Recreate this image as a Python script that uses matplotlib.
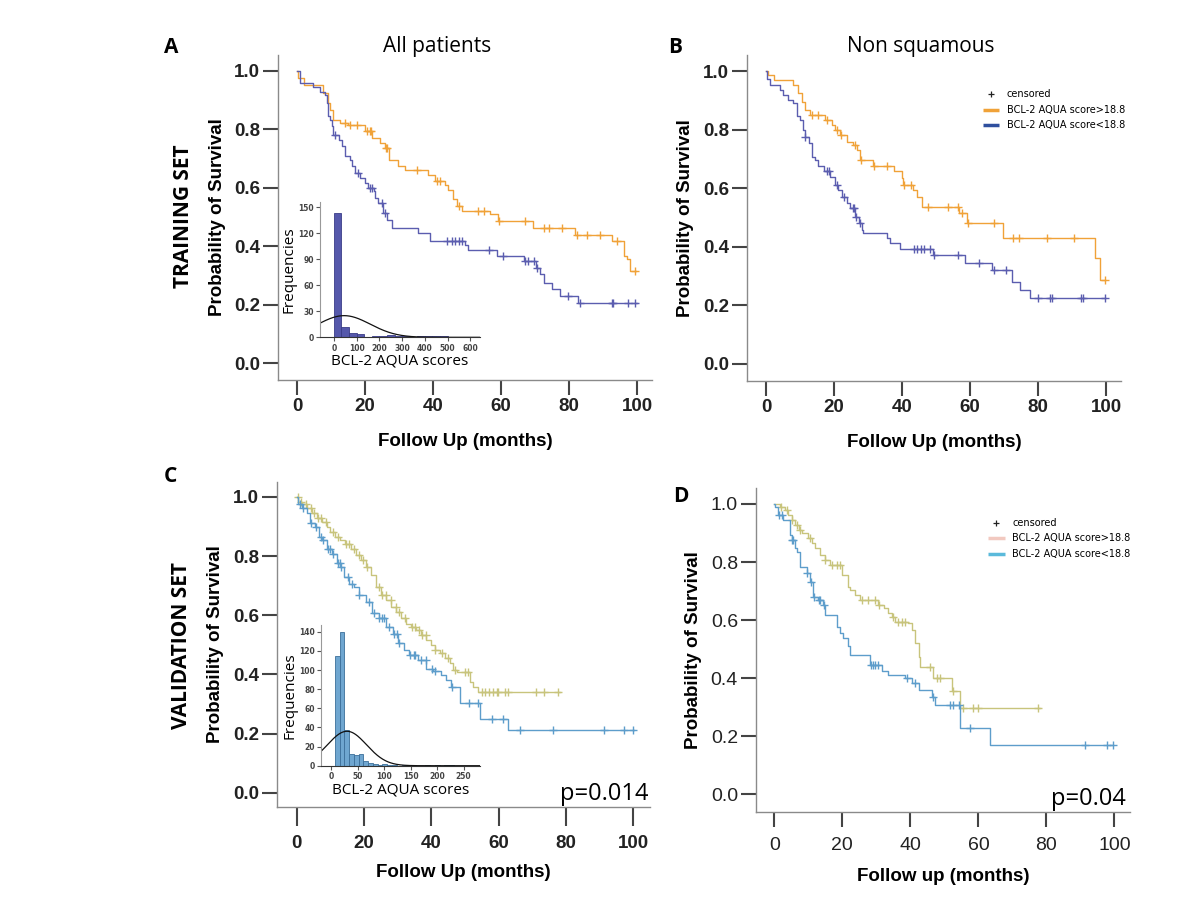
import numpy as np
import matplotlib
matplotlib.use('Agg')
import matplotlib.pyplot as plt

''' Data (read off the figure) '''
# Panel A - all patients, training set
a_hi_t = [0.4, 1.9, 7.7, 9.2, 9.7, 10.7, 12.6, 15.1, 20.0, 22.0, 24.4, 25.9, 26.9, 29.8, 31.8,
          38.6, 40.6, 43.5, 44.5, 46.0, 47.0, 48.4, 56.8, 59.2, 69.5, 81.8, 92.6, 96.0, 97.0, 97.9]
a_hi_s = [0.974, 0.952, 0.924, 0.890, 0.867, 0.833, 0.821, 0.816, 0.793, 0.770, 0.753, 0.736, 0.696,
          0.673, 0.662, 0.645, 0.622, 0.611, 0.594, 0.560, 0.537, 0.520, 0.509, 0.486, 0.463, 0.440,
          0.418, 0.366, 0.355, 0.315]
a_hi_c = [14.0, 15.6, 17.5, 20.5, 21.5, 21.8, 26.2, 26.5, 35.2, 41.1, 42.1, 47.5, 53.3, 55.0, 59.5,
          67.1, 72.5, 74.2, 77.8, 82.2, 85.2, 89.1, 94.2, 99.4]
a_hi_end = 99.6

a_lo_t = [0.9, 4.8, 6.8, 8.2, 8.7, 9.2, 9.7, 10.2, 10.7, 12.2, 13.1, 14.1, 15.6, 16.1, 17.1, 18.5,
          20.0, 21.0, 22.5, 22.9, 23.9, 25.4, 26.4, 27.8, 35.7, 39.1, 49.4, 50.4, 58.7, 66.6, 70.3,
          71.5, 72.5, 74.9, 77.4, 82.7]
a_lo_s = [0.958, 0.946, 0.929, 0.918, 0.890, 0.844, 0.833, 0.810, 0.782, 0.765, 0.742, 0.708, 0.696,
          0.673, 0.651, 0.634, 0.617, 0.600, 0.588, 0.565, 0.548, 0.514, 0.491, 0.463, 0.446, 0.418,
          0.406, 0.389, 0.366, 0.349, 0.327, 0.304, 0.275, 0.253, 0.230, 0.207]
a_lo_c = [11.2, 18.0, 21.5, 22.0, 24.9, 25.9, 44.0, 45.5, 46.5, 47.5, 48.4, 56.3, 60.7, 67.1, 68.0,
          69.8, 70.6, 79.8, 83.2, 92.5, 93.0, 97.4, 99.4]
a_lo_end = 99.9

# Panel B - non squamous, training set
b_hi_t = [0.7, 2.2, 8.0, 9.5, 10.5, 11.5, 12.9, 17.4, 19.3, 20.3, 21.8, 23.7, 25.7, 26.7, 27.5,
          31.6, 37.5, 40.0, 40.4, 43.3, 44.3, 45.8, 56.6, 59.0, 69.8, 96.8, 98.2]
b_hi_s = [0.988, 0.971, 0.954, 0.925, 0.897, 0.868, 0.851, 0.834, 0.817, 0.800, 0.783, 0.760, 0.749,
          0.732, 0.697, 0.675, 0.658, 0.635, 0.612, 0.595, 0.572, 0.538, 0.515, 0.481, 0.430, 0.361,
          0.287]
b_hi_c = [13.5, 15.3, 17.9, 20.8, 22.0, 26.1, 28.0, 31.8, 35.5, 40.6, 42.5, 47.5, 53.5, 56.4, 57.6,
          59.5, 67.0, 72.6, 74.5, 82.6, 90.6, 99.7]
b_hi_end = 99.7

b_lo_t = [0.3, 1.2, 4.1, 5.1, 6.6, 8.0, 9.0, 10.0, 11.0, 11.5, 12.5, 13.4, 14.4, 15.4, 16.9, 18.8,
          20.3, 21.3, 22.3, 23.7, 24.7, 26.2, 27.2, 28.1, 28.6, 35.5, 36.5, 39.4, 49.2, 58.5, 66.4,
          72.3, 74.7, 77.6]
b_lo_s = [0.975, 0.954, 0.937, 0.920, 0.903, 0.891, 0.846, 0.834, 0.800, 0.777, 0.754, 0.709, 0.697,
          0.675, 0.658, 0.640, 0.612, 0.595, 0.572, 0.549, 0.532, 0.504, 0.481, 0.458, 0.447, 0.430,
          0.413, 0.392, 0.373, 0.346, 0.321, 0.281, 0.253, 0.224]
b_lo_c = [11.6, 18.0, 18.5, 21.0, 23.0, 25.5, 26.0, 26.5, 27.5, 43.5, 44.5, 45.5, 46.5, 48.3, 49.4,
          56.5, 62.5, 67.0, 70.5, 80.0, 83.5, 84.2, 92.5, 93.2, 99.6]
b_lo_end = 99.7

# Panel C - all patients, validation set
c_hi_t = [0.5, 1.5, 3.0, 4.5, 6.0, 7.5, 9.0, 10.0, 11.5, 13.0, 14.5, 16.0, 17.5, 19.0, 20.5, 22.0,
          23.5, 25.0, 26.5, 28.0, 29.5, 31.0, 32.5, 34.0, 35.5, 37.0, 38.5, 40.0, 41.2, 42.5, 44.0,
          45.5, 46.5, 47.5, 51.5, 52.5, 54.0]
c_hi_s = [0.983, 0.977, 0.961, 0.944, 0.927, 0.916, 0.899, 0.882, 0.865, 0.854, 0.842, 0.825, 0.803,
          0.786, 0.764, 0.735, 0.696, 0.668, 0.651, 0.628, 0.611, 0.589, 0.572, 0.561, 0.550, 0.533,
          0.516, 0.499, 0.482, 0.471, 0.454, 0.437, 0.414, 0.409, 0.375, 0.358, 0.341]
c_hi_c = [0.4, 1.4, 2.9, 4.3, 5.3, 6.3, 7.3, 8.8, 10.7, 12.2, 14.7, 15.6, 17.1, 18.6, 19.6, 21.0,
          24.5, 25.5, 26.4, 27.9, 29.4, 30.4, 32.3, 34.3, 35.3, 36.3, 37.3, 38.3, 41.2, 43.2, 45.1,
          47.1, 50.0, 51.0, 55.0, 56.0, 57.0, 58.4, 59.4, 59.9, 61.9, 62.8, 71.2, 73.6, 77.6]
c_hi_end = 78.1

c_lo_t = [0.5, 1.5, 3.0, 4.0, 5.5, 6.5, 7.5, 9.0, 10.5, 12.0, 13.0, 14.0, 15.5, 17.0, 18.5, 20.5,
          22.5, 24.5, 26.5, 28.5, 30.0, 32.0, 33.5, 36.0, 38.5, 40.5, 43.0, 44.5, 46.0, 48.5, 54.5,
          62.8]
c_lo_s = [0.975, 0.961, 0.944, 0.910, 0.899, 0.865, 0.854, 0.825, 0.808, 0.775, 0.764, 0.730, 0.707,
          0.696, 0.668, 0.645, 0.606, 0.589, 0.561, 0.538, 0.505, 0.482, 0.465, 0.448, 0.420, 0.410,
          0.398, 0.381, 0.358, 0.302, 0.251, 0.212]
c_lo_c = [0.9, 2.0, 4.3, 5.8, 7.3, 7.8, 9.3, 9.8, 10.8, 12.3, 12.8, 13.3, 15.3, 16.3, 18.6, 21.5,
          23.0, 24.5, 25.5, 26.0, 27.4, 28.9, 29.9, 30.4, 33.8, 34.8, 35.3, 36.8, 38.3, 40.2, 41.2,
          46.1, 51.1, 54.0, 57.9, 61.4, 66.3, 76.2, 91.4, 97.3, 99.8]
c_lo_end = 100.3

# Panel D - non squamous, validation set
d_hi_t = [1.7, 3.1, 4.1, 5.1, 6.1, 7.1, 8.0, 10.0, 11.0, 12.0, 13.4, 14.9, 16.4, 19.8, 21.8, 22.3,
          23.7, 25.2, 30.6, 32.1, 33.5, 34.5, 35.5, 39.4, 40.4, 41.4, 42.4, 42.8, 46.8, 52.2, 54.6]
d_hi_s = [0.991, 0.979, 0.962, 0.945, 0.928, 0.910, 0.899, 0.882, 0.865, 0.847, 0.824, 0.807, 0.790,
          0.755, 0.715, 0.704, 0.687, 0.669, 0.652, 0.641, 0.623, 0.612, 0.595, 0.589, 0.566, 0.520,
          0.474, 0.440, 0.400, 0.354, 0.296]
d_hi_c = [1.9, 3.6, 5.3, 6.6, 7.5, 10.5, 14.9, 16.9, 18.3, 19.3, 25.7, 27.6, 29.6, 30.8, 35.0, 36.5,
          37.5, 38.4, 45.8, 47.7, 48.7, 52.6, 55.6, 58.5, 60.0, 77.6]
d_hi_end = 78.1

d_lo_t = [0.2, 1.2, 2.6, 4.6, 5.1, 6.1, 6.6, 7.5, 9.5, 10.5, 11.5, 12.9, 14.4, 14.9, 18.3, 19.3,
          20.3, 21.8, 22.3, 28.1, 31.6, 33.5, 38.4, 40.4, 42.4, 46.3, 47.3, 54.6, 63.4]
d_lo_s = [0.991, 0.962, 0.945, 0.893, 0.876, 0.847, 0.836, 0.784, 0.761, 0.732, 0.681, 0.669, 0.652,
          0.618, 0.577, 0.555, 0.537, 0.509, 0.480, 0.445, 0.423, 0.411, 0.400, 0.382, 0.359, 0.336,
          0.308, 0.227, 0.170]
d_lo_c = [1.4, 2.2, 5.3, 5.6, 9.7, 10.7, 11.7, 13.1, 13.4, 14.6, 28.3, 29.1, 29.6, 30.6, 38.9, 41.4,
          46.8, 51.7, 52.6, 54.4, 57.5, 91.4, 97.7, 99.7]
d_lo_end = 99.7

# Inset histograms of BCL-2 AQUA scores
hist_a_edges = [0, 33, 67, 100, 133, 167, 200, 233, 267, 300, 333, 367, 400, 433, 467, 500]
hist_a_counts = [143, 12, 5, 4, 0, 1, 2, 3, 1, 1, 0, 1, 2, 1, 1]
hist_a_mean, hist_a_sd, hist_a_peak = 45, 115, 25

hist_c_edges = [7, 16, 25, 34, 43, 52, 61, 70, 79, 88, 97, 106, 115, 124, 133, 142, 151, 160, 169,
                178, 187, 196, 205, 214, 223, 232]
hist_c_counts = [115, 140, 37, 12, 11, 12, 5, 3, 2, 1, 2, 1, 1, 0, 1, 0, 1, 0, 0, 1, 0, 1, 0, 1, 1]
hist_c_mean, hist_c_sd, hist_c_peak = 30, 37, 36

legend_labels = ['censored', 'BCL-2 AQUA score>18.8', 'BCL-2 AQUA score<18.8']

''' Styling '''
orange = '#f0a238'
purple = '#5b5daf'
khaki = '#c8c47c'
steel = '#5d9dcb'
spine_gray = '#8a8a8a'
tick_gray = '#444444'
bold_font = 'Liberation Sans'
soft_font = 'Open Sans'


def km_draw(ax, t, s, cens, end, color):
    xs = np.concatenate([[0], t, [end]])
    ys = np.concatenate([[1.0], s, [s[-1]]])
    ax.plot(xs, ys, drawstyle='steps-post', color=color, lw=1.0)
    idx = np.searchsorted(t, cens, side='right') - 1
    cy = np.where(idx >= 0, np.asarray(s)[np.clip(idx, 0, None)], 1.0)
    ax.plot(cens, cy, '+', color=color, ms=6, mew=1.0)


def style_km(ax, xlim, ylim, bold_ticks=True, size=13.5, xpad=2, xlen=11):
    ax.set_xlim(*xlim)
    ax.set_ylim(*ylim)
    for side in ['top', 'right']:
        ax.spines[side].set_visible(False)
    for side in ['left', 'bottom']:
        ax.spines[side].set_color(spine_gray)
        ax.spines[side].set_linewidth(1.0)
    ax.set_xticks([0, 20, 40, 60, 80, 100])
    ax.set_yticks([0.0, 0.2, 0.4, 0.6, 0.8, 1.0])
    ax.set_yticklabels(['0.0', '0.2', '0.4', '0.6', '0.8', '1.0'])
    ax.tick_params(length=11, width=1.5, color=tick_gray, pad=2)
    ax.tick_params(axis='x', pad=xpad, length=xlen)
    weight = 'bold' if bold_ticks else 'normal'
    for lab in ax.get_xticklabels() + ax.get_yticklabels():
        lab.set_fontfamily(bold_font)
        lab.set_fontweight(weight)
        lab.set_fontsize(size)
        lab.set_color('#222222')


def style_inset(ax, xlim, ylim, xticks, yticks):
    ax.set_xlim(*xlim)
    ax.set_ylim(*ylim)
    ax.patch.set_alpha(0)
    for side in ['top', 'right']:
        ax.spines[side].set_visible(False)
    ax.spines['left'].set_color('#999999')
    ax.spines['bottom'].set_color('#333333')
    ax.spines['bottom'].set_position(('data', 0))
    ax.set_xticks(xticks)
    ax.set_yticks(yticks)
    ax.tick_params(length=3, width=0.8, color='#555555', labelsize=5.5, pad=1.5)
    for lab in ax.get_xticklabels() + ax.get_yticklabels():
        lab.set_fontweight('bold')
        lab.set_color('#444444')
    ax.set_xlabel('BCL-2 AQUA scores', fontfamily=soft_font, fontsize=11, labelpad=1)
    ax.set_ylabel('Frequencies', fontfamily=soft_font, fontsize=11, labelpad=1)


def draw_hist(ax, edges, counts, face, edge, mean, sd, peak, xlim):
    edges = np.asarray(edges, dtype=float)
    ax.bar(edges[:-1], counts, width=np.diff(edges), align='edge', color=face,
           edgecolor=edge, linewidth=0.6)
    xs = np.linspace(xlim[0], xlim[1], 300)
    ax.plot(xs, peak * np.exp(-0.5 * ((xs - mean) / sd) ** 2), color='#111111', lw=0.9)


''' Figure '''
fig = plt.figure(figsize=(12, 9), dpi=100)

axA = fig.add_axes([0.2317, 0.5778, 0.3117, 0.3611])
axB = fig.add_axes([0.6225, 0.5767, 0.3117, 0.3622])
axC = fig.add_axes([0.2308, 0.1033, 0.3108, 0.3611])
axD = fig.add_axes([0.6300, 0.0978, 0.3117, 0.3600])

km_draw(axA, a_hi_t, a_hi_s, a_hi_c, a_hi_end, orange)
km_draw(axA, a_lo_t, a_lo_s, a_lo_c, a_lo_end, purple)
km_draw(axB, b_hi_t, b_hi_s, b_hi_c, b_hi_end, orange)
km_draw(axB, b_lo_t, b_lo_s, b_lo_c, b_lo_end, purple)
km_draw(axC, c_hi_t, c_hi_s, c_hi_c, c_hi_end, khaki)
km_draw(axC, c_lo_t, c_lo_s, c_lo_c, c_lo_end, steel)
km_draw(axD, d_hi_t, d_hi_s, d_hi_c, d_hi_end, khaki)
km_draw(axD, d_lo_t, d_lo_s, d_lo_c, d_lo_end, steel)

style_km(axA, (-5.6, 104.4), (-0.057, 1.054))
style_km(axB, (-5.6, 104.4), (-0.058, 1.056))
style_km(axC, (-5.85, 104.95), (-0.048, 1.05), xpad=6, xlen=14)
style_km(axD, (-5.4, 104.6), (-0.061, 1.055), bold_ticks=False, size=14, xpad=7)

for ax, xl, yl, lp in [(axA, 'Follow Up (months)', 'Probability of Survival', 13),
                       (axB, 'Follow Up (months)', 'Probability of Survival', 13),
                       (axC, 'Follow Up (months)', 'Probability of Survival', 9),
                       (axD, 'Follow up (months)', 'Probability of Survival', 10)]:
    ax.set_xlabel(xl, fontfamily=bold_font, fontweight='bold', fontsize=13.5, labelpad=lp)
    ax.set_ylabel(yl, fontfamily=bold_font, fontweight='bold', fontsize=13.5, labelpad=6)

# Titles, panel letters, set labels
fig.text(0.364, 0.948, 'All patients', fontfamily=soft_font, fontsize=15, ha='center', va='center')
fig.text(0.767, 0.948, 'Non squamous', fontfamily=soft_font, fontsize=15, ha='center', va='center')
for x, y, letter in [(0.143, 0.947, 'A'), (0.563, 0.947, 'B'), (0.142, 0.470, 'C'), (0.567, 0.448, 'D')]:
    fig.text(x, y, letter, fontfamily=soft_font, fontweight='bold', fontsize=15, ha='center', va='center')
fig.text(0.153, 0.760, 'TRAINING SET', fontfamily=soft_font, fontweight='bold', fontsize=15,
         rotation=90, ha='center', va='center')
fig.text(0.151, 0.283, 'VALIDATION SET', fontfamily=soft_font, fontweight='bold', fontsize=15,
         rotation=90, ha='center', va='center')

# p values
fig.text(0.54, 0.1044, 'p=0.014', fontfamily=soft_font, fontsize=17, ha='right', va='bottom')
axD.text(0.99, 0.002, 'p=0.04', transform=axD.transAxes, fontfamily=soft_font, fontsize=17,
         ha='right', va='bottom')

# Legends (B and D)
for ax, c_hi, c_lo, lx, ly in [(axB, orange, '#2f4f9e', 0.63, 0.88), (axD, '#f2c9c0', '#5bbadb', 0.62, 0.893)]:
    ax.plot([lx + 0.022], [ly], '+', color='#222222', ms=5, mew=0.9, transform=ax.transAxes)
    ax.text(lx + 0.065, ly, legend_labels[0], transform=ax.transAxes, fontsize=7, va='center')
    for k, col in enumerate([c_hi, c_lo]):
        yy = ly - 0.048 * (k + 1)
        ax.plot([lx, lx + 0.045], [yy, yy], color=col, lw=2.5, transform=ax.transAxes,
                solid_capstyle='butt')
        ax.text(lx + 0.065, yy, legend_labels[k + 1], transform=ax.transAxes, fontsize=7,
                va='center')

# Inset histograms
insA = fig.add_axes([0.2667, 0.6252, 0.1333, 0.1503])
draw_hist(insA, hist_a_edges, hist_a_counts, '#5558ab', '#3a3c88', hist_a_mean, hist_a_sd,
          hist_a_peak, (-61, 643))
style_inset(insA, (-61, 643), (0, 156), [0, 100, 200, 300, 400, 500, 600], [0, 30, 60, 90, 120, 150])

insC = fig.add_axes([0.2675, 0.1492, 0.1325, 0.1563])
draw_hist(insC, hist_c_edges, hist_c_counts, '#6fa6d0', '#3c6f9a', hist_c_mean, hist_c_sd,
          hist_c_peak, (-19, 281))
style_inset(insC, (-19, 281), (0, 147), [0, 50, 100, 150, 200, 250], [0, 20, 40, 60, 80, 100, 120, 140])

fig.savefig('out.png', dpi=100)
